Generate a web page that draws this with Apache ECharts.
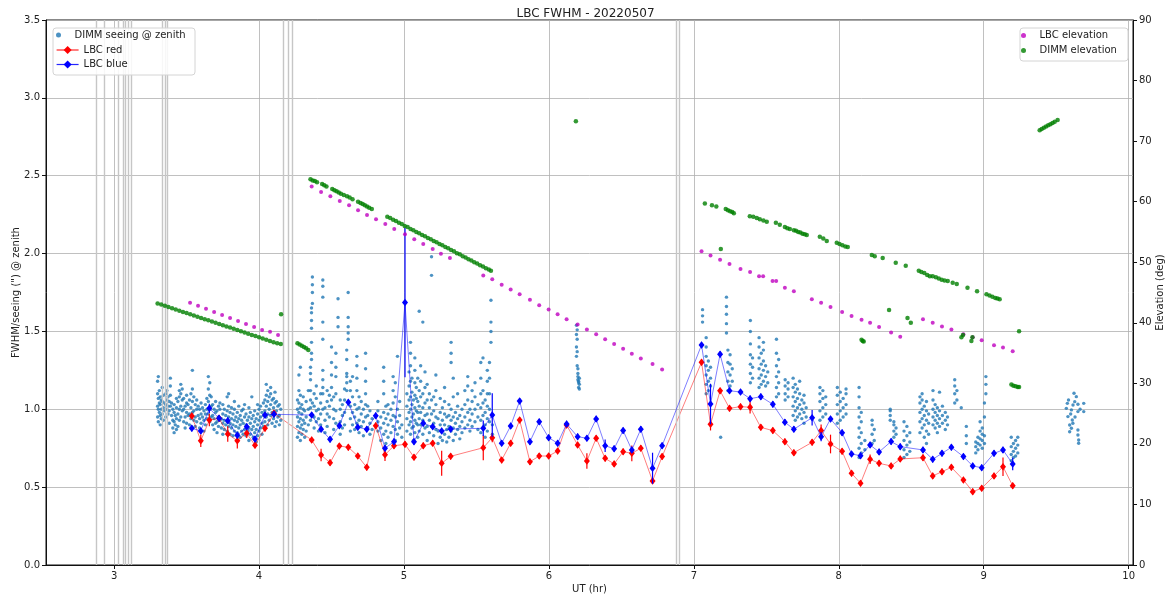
<!DOCTYPE html>
<html>
<head>
<meta charset="utf-8">
<script src="https://cdn.jsdelivr.net/npm/echarts@6/dist/echarts.min.js"></script>
<style>
html, body { margin: 0; padding: 0; background: #fff; }
#chart { width: 1171px; height: 596px; }
</style>
</head>
<body>
<div id="chart"></div>
<script>
// vertical flag lines (UT hr)
const flagTimes = [2.883, 2.931, 3.028, 3.055, 3.083, 3.103, 3.124, 3.331, 3.352, 3.372, 4.172, 4.200, 4.228, 6.876, 6.903];

// LBC image times and FWHM (red / blue channel) with errors
const lbcTime = [
    3.536, 3.598, 3.657, 3.724, 3.784, 3.850, 3.915, 3.972, 4.041, 4.103,
    4.363, 4.428, 4.490, 4.554, 4.616, 4.681, 4.743, 4.805, 4.869, 4.931, 5.007, 5.069, 5.133, 5.198, 5.260, 5.322,
    5.547, 5.609, 5.674, 5.736, 5.798, 5.869, 5.933, 5.998, 6.060, 6.122, 6.198, 6.262, 6.326, 6.388, 6.450, 6.512,
    6.572, 6.634, 6.715, 6.781,
    7.053, 7.115, 7.181, 7.246, 7.322, 7.388, 7.462, 7.545, 7.628, 7.690, 7.816, 7.878, 7.943, 8.023, 8.088, 8.150,
    8.216, 8.278, 8.361, 8.424, 8.581, 8.648, 8.712, 8.777, 8.860, 8.924, 8.986, 9.071, 9.133, 9.200,
];
const lbcRed = [
    0.957, 0.798, 0.931, 0.942, 0.841, 0.798, 0.846, 0.769, 0.878, 0.974,
    0.803, 0.706, 0.657, 0.764, 0.756, 0.700, 0.627, 0.895, 0.708, 0.766, 0.775, 0.692, 0.766, 0.782, 0.653, 0.698,
    0.753, 0.818, 0.674, 0.782, 0.931, 0.663, 0.700, 0.700, 0.732, 0.899, 0.771, 0.668, 0.814, 0.685, 0.649, 0.728,
    0.717, 0.750, 0.540, 0.696,
    1.302, 0.904, 1.119, 1.006, 1.017, 1.013, 0.884, 0.863, 0.792, 0.721, 0.788, 0.863, 0.777, 0.730, 0.589, 0.525,
    0.679, 0.653, 0.636, 0.681, 0.689, 0.572, 0.599, 0.627, 0.546, 0.471, 0.493, 0.572, 0.631, 0.509,
];
const lbcRedErr = [
    0.02, 0.04, 0.04, 0.02, 0.05, 0.05, 0.03, 0.02, 0.02, 0.02,
    0.02, 0.04, 0.02, 0.02, 0.02, 0.02, 0.02, 0.02, 0.04, 0.02, 0.02, 0.02, 0.02, 0.02, 0.08, 0.02,
    0.08, 0.03, 0.02, 0.02, 0.02, 0.02, 0.02, 0.02, 0.02, 0.02, 0.02, 0.05, 0.02, 0.02, 0.02, 0.02,
    0.05, 0.02, 0.02, 0.02,
    0.02, 0.04, 0.02, 0.02, 0.02, 0.04, 0.02, 0.02, 0.02, 0.02, 0.02, 0.04, 0.06, 0.02, 0.02, 0.02,
    0.03, 0.02, 0.02, 0.02, 0.02, 0.02, 0.02, 0.02, 0.02, 0.02, 0.02, 0.02, 0.06, 0.02,
];
const lbcBlue = [
    0.878, 0.861, 1.006, 0.942, 0.927, 0.833, 0.888, 0.809, 0.963, 0.968,
    0.963, 0.872, 0.807, 0.895, 1.045, 0.884, 0.872, 0.959, 0.750, 0.792, 1.685, 0.792, 0.910, 0.888, 0.861, 0.873,
    0.878, 0.963, 0.782, 0.893, 1.053, 0.792, 0.920, 0.818, 0.782, 0.906, 0.824, 0.814, 0.938, 0.766, 0.747, 0.863,
    0.739, 0.872, 0.621, 0.766,
    1.413, 1.034, 1.353, 1.119, 1.111, 1.068, 1.081, 1.032, 0.917, 0.872, 0.946, 0.824, 0.938, 0.850, 0.713, 0.702,
    0.771, 0.726, 0.793, 0.760, 0.739, 0.679, 0.717, 0.756, 0.696, 0.636, 0.625, 0.717, 0.739, 0.649,
];
const lbcBlueErr = [
    0.02, 0.02, 0.03, 0.02, 0.02, 0.02, 0.02, 0.02, 0.02, 0.02,
    0.02, 0.02, 0.02, 0.02, 0.02, 0.02, 0.02, 0.02, 0.02, 0.02, 0.48, 0.02, 0.02, 0.02, 0.02, 0.02,
    0.05, 0.14, 0.02, 0.02, 0.02, 0.02, 0.02, 0.02, 0.02, 0.02, 0.02, 0.02, 0.02, 0.04, 0.02, 0.02,
    0.02, 0.02, 0.10, 0.02,
    0.02, 0.13, 0.02, 0.02, 0.02, 0.02, 0.02, 0.02, 0.02, 0.02, 0.05, 0.03, 0.02, 0.02, 0.02, 0.02,
    0.02, 0.02, 0.02, 0.02, 0.02, 0.02, 0.02, 0.02, 0.02, 0.02, 0.02, 0.02, 0.02, 0.04,
];

// LBC telescope elevation (deg)
const lbcElevTime = [
    3.524, 3.579, 3.634, 3.690, 3.745, 3.800, 3.855, 3.910, 3.966, 4.021, 4.076, 4.131,
    4.363, 4.428, 4.492, 4.557, 4.621, 4.683, 4.745, 4.807, 4.871, 4.933, 5.007, 5.071, 5.133, 5.198, 5.255, 5.317,
    5.547, 5.609, 5.674, 5.736, 5.798, 5.869, 5.933, 5.998, 6.060, 6.122, 6.198, 6.262, 6.326, 6.388, 6.450, 6.512,
    6.572, 6.634, 6.715, 6.781,
    7.053, 7.115, 7.181, 7.246, 7.322, 7.388, 7.450, 7.478, 7.543, 7.568, 7.628, 7.690, 7.814, 7.878, 7.943, 8.023,
    8.088, 8.157, 8.216, 8.278, 8.361, 8.424, 8.581, 8.648, 8.712, 8.777, 8.860, 8.924, 8.986, 9.071, 9.133, 9.200,
];
const lbcElev = [
    43.3, 42.8, 42.3, 41.8, 41.3, 40.8, 40.3, 39.8, 39.3, 38.8, 38.5, 38.0,
    62.5, 61.6, 60.9, 60.1, 59.4, 58.6, 57.8, 57.1, 56.3, 55.5, 54.6, 53.8, 53.0, 52.2, 51.4, 50.7,
    47.8, 47.2, 46.3, 45.5, 44.7, 43.8, 42.9, 42.2, 41.4, 40.6, 39.7, 38.9, 38.1, 37.3, 36.5, 35.7,
    34.9, 34.1, 33.2, 32.3,
    51.8, 51.1, 50.4, 49.7, 48.9, 48.4, 47.7, 47.7, 46.9, 46.9, 45.8, 45.2, 43.9, 43.3, 42.6, 41.8,
    41.1, 40.5, 40.0, 39.3, 38.4, 37.7, 40.6, 40.0, 39.4, 38.9, 38.1, 37.6, 37.1, 36.3, 35.9, 35.3,
];

// DIMM elevation [UT, deg]
const dimmElev = [
    [3.300, 43.2], [3.325, 43.0], [3.350, 42.8], [3.375, 42.6], [3.400, 42.4], [3.425, 42.2], [3.450, 42.0],
    [3.475, 41.8], [3.500, 41.6], [3.525, 41.4], [3.550, 41.2], [3.575, 41.0], [3.600, 40.8], [3.625, 40.6],
    [3.650, 40.4], [3.675, 40.2], [3.700, 40.0], [3.725, 39.8], [3.750, 39.6], [3.775, 39.4], [3.800, 39.2],
    [3.825, 39.0], [3.850, 38.8], [3.875, 38.6], [3.900, 38.4], [3.925, 38.2], [3.950, 38.0], [3.975, 37.8],
    [4.000, 37.6], [4.025, 37.4], [4.050, 37.2], [4.075, 37.0], [4.100, 36.8], [4.125, 36.6], [4.150, 36.5],
    [4.152, 41.4],
    [4.265, 36.6], [4.280, 36.4], [4.295, 36.2], [4.310, 36.0], [4.325, 35.8], [4.340, 35.5],
    [4.355, 63.7], [4.370, 63.5], [4.385, 63.4], [4.400, 63.2],
    [4.435, 62.9], [4.450, 62.7], [4.465, 62.5],
    [4.505, 62.1], [4.520, 61.9], [4.535, 61.7], [4.550, 61.5], [4.565, 61.3], [4.585, 61.1],
    [4.607, 60.9], [4.625, 60.7], [4.645, 60.4],
    [4.683, 60.0], [4.700, 59.8], [4.715, 59.6], [4.730, 59.4], [4.745, 59.2], [4.760, 59.0], [4.778, 58.8],
    [4.885, 57.5], [4.905, 57.3], [4.925, 57.0], [4.945, 56.8], [4.965, 56.5], [4.985, 56.3], [5.005, 56.0],
    [5.025, 55.8], [5.045, 55.5], [5.065, 55.3], [5.085, 55.0], [5.105, 54.8], [5.125, 54.5], [5.145, 54.3],
    [5.165, 54.0], [5.185, 53.8], [5.205, 53.5], [5.225, 53.3], [5.245, 53.0], [5.265, 52.8], [5.285, 52.5],
    [5.305, 52.3], [5.325, 52.0], [5.345, 51.8], [5.365, 51.5], [5.385, 51.3], [5.405, 51.0], [5.425, 50.8],
    [5.445, 50.5], [5.465, 50.3], [5.485, 50.0], [5.505, 49.8], [5.525, 49.5], [5.545, 49.3], [5.565, 49.0],
    [5.585, 48.8], [5.600, 48.6],
    [6.186, 73.3],
    [7.076, 59.7], [7.125, 59.4], [7.155, 59.2], [7.186, 52.2],
    [7.220, 58.8], [7.235, 58.6], [7.250, 58.4], [7.265, 58.3], [7.276, 58.1],
    [7.386, 57.6], [7.410, 57.5], [7.434, 57.3], [7.455, 57.1], [7.480, 56.9], [7.503, 56.7],
    [7.566, 56.5], [7.593, 56.2], [7.628, 55.8], [7.645, 55.6], [7.662, 55.5],
    [7.690, 55.3], [7.705, 55.2], [7.720, 55.0], [7.735, 54.9], [7.750, 54.7], [7.765, 54.6], [7.779, 54.5],
    [7.869, 54.2], [7.893, 53.9], [7.917, 53.5],
    [7.986, 53.2], [8.005, 53.0], [8.025, 52.8], [8.045, 52.6], [8.062, 52.5],
    [8.157, 37.2], [8.165, 37.0], [8.172, 36.9],
    [8.228, 51.2], [8.248, 51.0], [8.303, 50.7], [8.347, 42.1], [8.393, 49.9], [8.462, 49.4], [8.474, 40.8], [8.497, 40.0],
    [8.552, 48.6], [8.570, 48.4], [8.590, 48.2], [8.610, 47.9], [8.628, 47.7],
    [8.648, 47.7], [8.670, 47.5], [8.690, 47.3], [8.710, 47.1], [8.730, 47.0], [8.752, 46.9],
    [8.786, 46.6], [8.814, 46.4], [8.846, 37.6], [8.857, 38.0], [8.888, 45.8], [8.915, 37.0], [8.922, 37.6], [8.954, 45.2],
    [9.019, 44.7], [9.040, 44.5], [9.060, 44.3], [9.080, 44.1], [9.095, 44.0], [9.110, 43.9],
    [9.191, 29.8], [9.205, 29.6], [9.220, 29.5], [9.235, 29.4], [9.244, 29.4], [9.244, 38.6],
    [9.386, 71.8], [9.400, 72.0], [9.415, 72.2], [9.430, 72.4], [9.445, 72.6], [9.460, 72.8], [9.475, 73.0],
    [9.490, 73.2], [9.510, 73.5],
];

// DIMM seeing @ zenith, one row per UT: [UT, values...]
const dimmSeeing = [
    [3.300, 0.95, 1.02, 1.10, 1.18], [3.305, 0.92, 1.00, 1.07, 1.21], [3.312, 0.98, 1.04, 1.12],
    [3.318, 0.90, 0.96, 1.03, 1.08], [3.325, 0.94, 1.00, 1.06], [3.332, 0.97, 1.05, 1.14],
    [3.340, 0.93, 1.01, 1.09], [3.348, 0.99, 1.04], [3.356, 0.95, 1.03, 1.10], [3.364, 1.00, 1.06, 1.12],
    [3.372, 0.97, 1.02, 1.08], [3.380, 0.91, 0.99, 1.05], [3.388, 1.02, 1.09, 1.15, 1.20], [3.396, 0.96, 1.04],
    [3.405, 0.88, 0.93, 1.00], [3.414, 0.85, 0.92, 0.98, 1.03], [3.422, 0.90, 0.96], [3.430, 0.87, 0.94, 1.01, 1.07],
    [3.440, 0.89, 0.97, 1.05], [3.450, 0.93, 1.00, 1.08, 1.12], [3.460, 0.95, 1.02, 1.10, 1.16],
    [3.470, 0.99, 1.06, 1.13], [3.480, 0.92, 1.00, 1.07], [3.490, 0.88, 0.95, 1.02], [3.500, 0.91, 0.98, 1.04, 1.09],
    [3.510, 0.96, 1.03], [3.520, 0.90, 0.97, 1.06], [3.530, 0.94, 1.01, 1.10], [3.540, 0.98, 1.05, 1.13, 1.25],
    [3.550, 0.93, 0.99, 1.08], [3.560, 0.89, 0.95, 1.03], [3.570, 0.92, 1.00, 1.06], [3.580, 0.96, 1.02],
    [3.590, 0.88, 0.94, 1.00], [3.600, 0.91, 0.97, 1.04], [3.610, 0.95, 1.01], [3.620, 0.86, 0.93, 0.99],
    [3.630, 0.90, 0.97, 1.03], [3.640, 0.94, 1.00, 1.07], [3.650, 0.97, 1.05, 1.13, 1.21],
    [3.660, 0.92, 1.00, 1.09, 1.17], [3.670, 0.95, 1.02, 1.08], [3.680, 0.90, 0.96, 1.03], [3.690, 0.87, 0.94, 1.00],
    [3.700, 0.91, 0.98, 1.05], [3.710, 0.85, 0.92, 0.99], [3.720, 0.89, 0.95, 1.02], [3.730, 0.93, 1.00, 1.04],
    [3.740, 0.88, 0.94], [3.750, 0.84, 0.91, 0.97, 1.03], [3.760, 0.87, 0.93, 1.00], [3.770, 0.90, 0.96],
    [3.780, 0.86, 0.92, 0.99, 1.08], [3.790, 0.89, 0.95, 1.02, 1.10], [3.800, 0.84, 0.91, 0.98],
    [3.810, 0.88, 0.94, 1.01], [3.820, 0.83, 0.90, 0.97], [3.830, 0.86, 0.93, 1.00, 1.05], [3.840, 0.89, 0.95],
    [3.850, 0.85, 0.92, 0.98], [3.860, 0.88, 0.94, 1.02], [3.870, 0.82, 0.90, 0.96], [3.880, 0.86, 0.93, 0.99],
    [3.890, 0.84, 0.91, 1.00], [3.900, 0.87, 0.95, 1.03], [3.910, 0.83, 0.90, 0.97], [3.920, 0.86, 0.93],
    [3.930, 0.80, 0.88, 0.95, 1.01], [3.940, 0.84, 0.91, 0.98], [3.950, 0.87, 0.94, 1.08], [3.960, 0.82, 0.89, 0.96],
    [3.970, 0.85, 0.92, 0.99], [3.980, 0.79, 0.87, 0.94], [3.990, 0.83, 0.90, 0.97, 1.03], [4.000, 0.86, 0.93, 1.00],
    [4.010, 0.88, 0.95, 1.02], [4.020, 0.84, 0.91, 0.98], [4.030, 0.89, 0.96, 1.04], [4.040, 0.92, 0.99, 1.06],
    [4.050, 0.95, 1.02, 1.09, 1.16], [4.060, 0.90, 0.97, 1.05, 1.12], [4.070, 0.93, 1.00, 1.08],
    [4.080, 0.96, 1.03, 1.10, 1.14], [4.090, 0.91, 0.98, 1.06], [4.100, 0.94, 1.01, 1.07],
    [4.110, 0.89, 0.97, 1.04, 1.11], [4.120, 0.92, 0.99, 1.05], [4.130, 0.95, 1.02], [4.140, 0.90, 0.96, 1.03],
    [4.150, 0.93, 1.00],
    [4.265, 0.82, 0.89, 0.95, 1.00, 1.06], [4.275, 0.85, 0.92, 0.98, 1.04, 1.12, 1.22],
    [4.285, 0.80, 0.88, 0.94, 1.01, 1.09, 1.27], [4.295, 0.84, 0.90, 0.97, 1.03], [4.305, 0.87, 0.93, 1.00, 1.08],
    [4.315, 0.82, 0.91, 0.99], [4.325, 0.86, 0.95, 1.05], [4.340, 0.90, 1.00, 1.12],
    [4.355, 0.93, 1.01, 1.06, 1.12, 1.19, 1.23, 1.27], [4.362, 1.32, 1.36, 1.43, 1.52, 1.57, 1.62, 1.65],
    [4.368, 1.68, 1.75, 1.80, 1.85, 0.96, 1.04], [4.380, 0.88, 0.95, 1.02, 1.10], [4.395, 0.92, 0.99, 1.07, 1.15],
    [4.410, 0.86, 0.94, 1.00], [4.425, 0.90, 0.97, 1.04, 1.10],
    [4.440, 1.00, 1.10, 1.14, 1.19, 1.25, 1.45, 1.56, 1.72, 1.79, 1.83], [4.455, 0.85, 0.93, 1.01],
    [4.470, 0.89, 0.97, 1.05, 1.12], [4.485, 0.95, 1.02, 1.09], [4.500, 1.06, 1.14, 1.22, 1.30, 1.40],
    [4.515, 0.87, 0.94, 1.00, 1.08], [4.530, 0.91, 0.99, 1.10, 1.21, 1.27, 1.36], [4.545, 1.53, 1.59, 1.71],
    [4.560, 0.84, 0.92, 1.00, 1.06], [4.575, 0.88, 0.96, 1.03], [4.590, 0.90, 0.98, 1.06, 1.13],
    [4.605, 1.12, 1.17, 1.21, 1.23, 1.32, 1.38], [4.615, 1.45, 1.49, 1.53, 1.59, 1.75],
    [4.630, 0.86, 0.94, 1.02, 1.12, 1.18], [4.645, 0.90, 0.98, 1.08, 1.21], [4.660, 0.87, 0.95, 1.03],
    [4.675, 0.91, 1.00, 1.12, 1.20, 1.28, 1.34], [4.690, 0.85, 0.93, 1.01, 1.08], [4.705, 0.89, 0.97, 1.05],
    [4.720, 0.83, 0.92, 1.00], [4.735, 0.95, 1.03, 1.10, 1.18, 1.26, 1.36], [4.750, 0.88, 0.96, 1.02],
    [4.765, 0.84, 0.91, 0.99], [4.780, 0.87, 0.94], [4.820, 0.86, 0.92, 0.99, 1.05], [4.840, 0.80, 0.88, 0.95],
    [4.860, 0.84, 0.91, 0.98, 1.10, 1.18, 1.27], [4.875, 0.78, 0.86, 0.94, 1.02], [4.890, 0.82, 0.90, 0.97, 1.03],
    [4.910, 0.85, 0.93, 1.00], [4.925, 0.89, 0.96, 1.04, 1.12, 1.21], [4.940, 0.80, 0.87, 0.95, 1.08, 1.17],
    [4.955, 0.84, 0.92, 1.00, 1.34], [4.970, 0.88, 0.96, 1.05], [4.985, 0.82, 0.90],
    [5.020, 0.86, 0.94, 1.02, 1.10], [5.035, 0.90, 0.98, 1.06, 1.15, 1.24],
    [5.045, 0.84, 0.92, 1.00, 1.08, 1.18, 1.28, 1.36, 1.43], [5.055, 0.88, 0.95, 1.03, 1.11, 1.20],
    [5.065, 0.80, 0.89, 0.97, 1.06], [5.075, 0.85, 0.93, 1.01, 1.09, 1.17, 1.25, 1.33], [5.085, 0.91, 0.99, 1.07, 1.14],
    [5.095, 0.82, 0.90, 0.98, 1.05, 1.20], [5.105, 0.86, 0.94, 1.02, 1.12, 1.63], [5.115, 0.90, 0.98, 1.08, 1.18, 1.28],
    [5.130, 0.84, 0.93, 1.01, 1.10, 1.56], [5.145, 0.88, 0.96, 1.04, 1.14, 1.24], [5.160, 0.80, 0.89, 0.97, 1.06, 1.16],
    [5.175, 0.85, 0.93, 1.01, 1.10], [5.190, 0.89, 0.97, 1.06, 1.98, 1.86], [5.205, 0.83, 0.91, 0.99, 1.08],
    [5.220, 0.87, 0.95, 1.03, 1.12, 1.22], [5.235, 0.78, 0.86, 0.94], [5.250, 0.82, 0.90, 0.98, 1.07],
    [5.265, 0.80, 0.86, 0.93, 1.01], [5.280, 0.84, 0.90, 0.97, 1.05, 1.14], [5.295, 0.79, 0.87, 0.95],
    [5.310, 0.82, 0.89, 0.96, 1.03], [5.325, 0.86, 0.93, 1.00, 1.36, 1.43, 1.30], [5.340, 0.80, 0.88, 0.95, 1.08, 1.20],
    [5.355, 0.84, 0.91, 0.98], [5.370, 0.87, 0.94, 1.02, 1.10], [5.385, 0.81, 0.89, 0.96], [5.400, 0.85, 0.92, 1.00],
    [5.420, 0.88, 0.95, 1.03, 1.12], [5.440, 0.90, 0.98, 1.06, 1.15, 1.21], [5.455, 0.86, 0.93, 1.00],
    [5.470, 0.89, 0.97, 1.05, 1.12], [5.490, 0.92, 1.00, 1.08, 1.17], [5.510, 0.87, 0.95, 1.03],
    [5.530, 0.85, 0.93, 1.01, 1.10, 1.20, 1.30], [5.545, 0.88, 0.96, 1.04, 1.12, 1.33], [5.560, 0.82, 0.90, 0.98, 1.06],
    [5.575, 0.86, 0.94, 1.02, 1.10, 1.18, 1.25], [5.590, 0.92, 1.00, 1.10, 1.20, 1.30], [5.600, 1.43, 1.50, 1.56, 1.70],
    [5.610, 0.84, 0.90, 0.96],
    [6.190, 1.54, 1.48, 1.40, 1.34], [6.195, 1.51, 1.45, 1.37, 1.28], [6.200, 1.26, 1.23, 1.21, 1.19],
    [6.205, 1.18, 1.17, 1.14], [6.210, 1.13, 1.20, 1.16],
    [7.060, 1.56, 1.60, 1.64], [7.085, 1.10, 1.16, 1.22, 1.28, 1.34, 1.40, 1.46], [7.100, 1.12, 1.18, 1.25, 1.31],
    [7.115, 1.15, 1.20, 1.27], [7.185, 0.82], [7.225, 1.49, 1.55, 1.61, 1.66, 1.72], [7.235, 1.12, 1.18, 1.24, 1.30, 1.38],
    [7.250, 1.15, 1.22, 1.29, 1.35], [7.265, 1.18, 1.26], [7.390, 1.17, 1.23, 1.29, 1.35, 1.42, 1.50, 1.57],
    [7.405, 1.20, 1.27, 1.33], [7.450, 1.14, 1.20, 1.26, 1.33, 1.40, 1.46], [7.465, 1.16, 1.22, 1.29, 1.36],
    [7.480, 1.18, 1.25, 1.31, 1.38, 1.43], [7.495, 1.15, 1.21, 1.28], [7.510, 1.17, 1.24],
    [7.570, 1.08, 1.14, 1.21, 1.28, 1.36, 1.45], [7.585, 1.10, 1.17, 1.24, 1.32], [7.630, 1.06, 1.10, 1.15, 1.19],
    [7.650, 1.08, 1.13, 1.17], [7.685, 0.96, 1.02, 1.08, 1.14, 1.20], [7.700, 0.93, 0.99, 1.05, 1.11, 1.16],
    [7.715, 0.95, 1.01, 1.07, 1.13], [7.730, 0.97, 1.03, 1.10, 1.18], [7.745, 0.94, 1.00, 1.06],
    [7.760, 0.91, 0.98, 1.04, 1.09], [7.775, 0.95, 1.01], [7.870, 0.93, 0.99, 1.05, 1.10, 1.14],
    [7.890, 0.95, 1.01, 1.07, 1.12], [7.910, 0.97, 1.03, 1.08], [7.990, 0.91, 0.97, 1.03, 1.09, 1.14],
    [8.010, 0.93, 0.99, 1.05, 1.11], [8.030, 0.95, 1.01, 1.07], [8.050, 0.97, 1.03, 1.10, 1.13],
    [8.140, 0.69, 0.75, 0.82, 0.88, 0.95, 1.01, 1.08, 1.14], [8.155, 0.72, 0.78, 0.85, 0.92, 0.98], [8.180, 0.74, 0.80],
    [8.230, 0.78, 0.84, 0.90, 0.93], [8.245, 0.80, 0.87], [8.355, 0.93, 0.96, 0.99, 1.00], [8.380, 0.82, 0.86, 0.90, 0.92],
    [8.395, 0.84, 0.88], [8.450, 0.69, 0.74, 0.80, 0.86, 0.92], [8.470, 0.71, 0.77, 0.83, 0.89], [8.490, 0.73, 0.79, 0.85],
    [8.560, 0.85, 0.92, 0.98, 1.04, 1.08], [8.575, 0.88, 0.94, 1.00, 1.06, 1.10], [8.590, 0.82, 0.90, 0.96, 1.02],
    [8.605, 0.78, 0.86, 0.93, 0.99, 1.05], [8.620, 0.84, 0.91, 0.97], [8.650, 0.90, 0.95, 1.00, 1.06, 1.12],
    [8.665, 0.88, 0.93, 0.98, 1.03], [8.680, 0.85, 0.91, 0.96, 1.01], [8.695, 0.89, 0.94, 0.99, 1.11],
    [8.715, 0.91, 0.96, 1.02], [8.735, 0.87, 0.93, 0.98], [8.750, 0.90, 0.95], [8.800, 1.04, 1.10, 1.15, 1.19],
    [8.815, 1.06, 1.12], [8.845, 1.01], [8.880, 0.78, 0.83, 0.89], [8.945, 0.72, 0.76, 0.79], [8.960, 0.74, 0.78, 0.82],
    [8.975, 0.77, 0.81, 0.86, 0.92], [8.990, 0.75, 0.80, 0.84, 0.88], [9.005, 0.78, 0.83, 0.95, 1.04],
    [9.015, 1.10, 1.16, 1.21], [9.190, 0.67, 0.71, 0.76, 0.82], [9.205, 0.69, 0.73, 0.78], [9.220, 0.70, 0.75, 0.80],
    [9.235, 0.72, 0.77, 0.82],
    [9.570, 1.006], [9.577, 1.038], [9.581, 0.953], [9.585, 1.06], [9.593, 0.899, 0.856], [9.600, 0.97],
    [9.605, 0.996, 0.878], [9.611, 0.931], [9.615, 0.91], [9.616, 1.028], [9.623, 1.103], [9.628, 1.049],
    [9.630, 0.95], [9.639, 1.081], [9.650, 1.032, 0.985, 0.867, 0.835], [9.655, 0.803, 0.782], [9.665, 1.00],
    [9.690, 1.038, 0.985],
];

const FONT = 'DejaVu Sans';
const TEXT = '#222';

const pairs = (xs, ys) => xs.map((x, i) => [x, ys[i]]);
const dimmPoints = dimmSeeing.flatMap(([t, ...vals]) => vals.map(v => [t, v]));

const errorSeries = (name, color, ys, es, z) => ({
    name,
    type: 'custom',
    z,
    silent: true,
    data: lbcTime.map((t, i) => [t, ys[i] - es[i], ys[i] + es[i]]),
    encode: {x: 0, y: [1, 2]},
    renderItem: (params, api) => {
        const lo = api.coord([api.value(0), api.value(1)]);
        const hi = api.coord([api.value(0), api.value(2)]);
        return {
            type: 'line',
            shape: {x1: lo[0], y1: lo[1], x2: hi[0], y2: hi[1]},
            style: {stroke: color, lineWidth: 1.2},
        };
    },
});

const fwhmSeries = (name, color, ys, z) => ({
    name,
    type: 'line',
    z,
    data: pairs(lbcTime, ys),
    symbol: 'diamond',
    symbolSize: [6, 7.5],
    itemStyle: {color},
    lineStyle: {color, width: 0.6, opacity: 0.85},
});

const legendBase = {
    orient: 'vertical',
    itemWidth: 22,
    padding: 0,
    z: 30,
    selectedMode: false,
    textStyle: {fontFamily: FONT, fontSize: 10, color: TEXT, lineHeight: 12},
};

const chart = echarts.init(document.getElementById('chart'));
chart.setOption({
    animation: false,
    backgroundColor: '#fff',
    title: {
        text: 'LBC FWHM - 20220507',
        left: 'center',
        top: 3,
        textStyle: {fontFamily: FONT, fontSize: 12, fontWeight: 'normal', color: TEXT},
    },
    grid: {
        left: 46, right: 38, top: 20, bottom: 31,
        containLabel: false,
        outerBoundsMode: 'none',
        show: true, borderColor: '#111', borderWidth: 1,
    },
    legend: [
        {...legendBase, data: ['DIMM seeing @ zenith'], left: 56, top: 29, itemHeight: 5},
        {...legendBase, data: [{name: 'LBC red', lineStyle: {width: 1.2}}, {name: 'LBC blue', lineStyle: {width: 1.2}}],
            left: 56, top: 44, itemHeight: 10, itemGap: 2.5},
        {...legendBase, data: ['LBC elevation', 'DIMM elevation'], left: 1021, top: 29.5, itemHeight: 5, itemGap: 3},
    ],
    graphic: [
        {type: 'rect', left: 52.5, top: 27.5, z: 20, shape: {width: 142, height: 47, r: 3},
            style: {fill: 'rgba(255,255,255,0.85)', stroke: '#d4d4d4', lineWidth: 1}},
        {type: 'rect', left: 1019.5, top: 27.5, z: 20, shape: {width: 108, height: 33, r: 3},
            style: {fill: 'rgba(255,255,255,0.85)', stroke: '#d4d4d4', lineWidth: 1}},
    ],
    xAxis: {
        type: 'value',
        min: 2.53,
        max: 10.03,
        splitNumber: 8,
        name: 'UT (hr)',
        nameLocation: 'middle',
        nameGap: 19,
        nameMoveOverlap: false,
        nameTextStyle: {fontFamily: FONT, fontSize: 10, color: TEXT},
        axisLine: {lineStyle: {color: '#111'}},
        axisTick: {length: 4, lineStyle: {color: '#111'}},
        axisLabel: {showMinLabel: false, showMaxLabel: false, fontFamily: FONT, fontSize: 10, color: TEXT, margin: 6},
        splitLine: {show: true, lineStyle: {color: '#b0b0b0', width: 0.8}},
    },
    yAxis: [
        {
            type: 'value',
            min: 0,
            max: 3.5,
            interval: 0.5,
            position: 'left',
            name: 'FWHM/seeing (") @ zenith',
            nameLocation: 'middle',
            nameGap: 25,
            nameMoveOverlap: false,
            nameRotate: 90,
            nameTextStyle: {fontFamily: FONT, fontSize: 10, color: TEXT},
            axisLine: {show: true, lineStyle: {color: '#111'}},
            axisTick: {show: true, length: 4, lineStyle: {color: '#111'}},
            axisLabel: {formatter: v => v.toFixed(1), fontFamily: FONT, fontSize: 10, color: TEXT, margin: 6},
            splitLine: {show: true, lineStyle: {color: '#b0b0b0', width: 0.8}},
        },
        {
            type: 'value',
            min: 0,
            max: 90,
            interval: 10,
            position: 'right',
            name: 'Elevation (deg)',
            nameLocation: 'middle',
            nameGap: 22,
            nameMoveOverlap: false,
            nameRotate: 90,
            nameTextStyle: {fontFamily: FONT, fontSize: 10, color: TEXT},
            axisLine: {show: true, lineStyle: {color: '#111'}},
            axisTick: {show: true, length: 4, lineStyle: {color: '#111'}},
            axisLabel: {fontFamily: FONT, fontSize: 10, color: TEXT, margin: 6},
            splitLine: {show: false},
        },
    ],
    series: [
        {
            name: 'flags',
            type: 'line',
            data: [],
            z: 1,
            silent: true,
            markLine: {
                silent: true,
                symbol: ['none', 'none'],
                label: {show: false},
                lineStyle: {color: '#c6c6c6', width: 1.4, type: 'solid'},
                data: flagTimes.map(t => ({xAxis: t})),
            },
        },
        {
            name: 'DIMM seeing @ zenith',
            type: 'scatter',
            z: 2,
            data: dimmPoints,
            symbolSize: 3.4,
            itemStyle: {color: '#1f77b4'},
        },
        errorSeries('LBC red err', 'red', lbcRed, lbcRedErr, 3),
        fwhmSeries('LBC red', 'red', lbcRed, 4),
        errorSeries('LBC blue err', 'blue', lbcBlue, lbcBlueErr, 5),
        fwhmSeries('LBC blue', 'blue', lbcBlue, 6),
        {
            name: 'LBC elevation',
            type: 'scatter',
            yAxisIndex: 1,
            z: 7,
            data: pairs(lbcElevTime, lbcElev),
            symbolSize: 4,
            itemStyle: {color: '#bf00bf'},
        },
        {
            name: 'DIMM elevation',
            type: 'scatter',
            yAxisIndex: 1,
            z: 8,
            data: dimmElev,
            symbolSize: 4.5,
            itemStyle: {color: '#008000'},
        },
    ],
});
</script>
</body>
</html>
